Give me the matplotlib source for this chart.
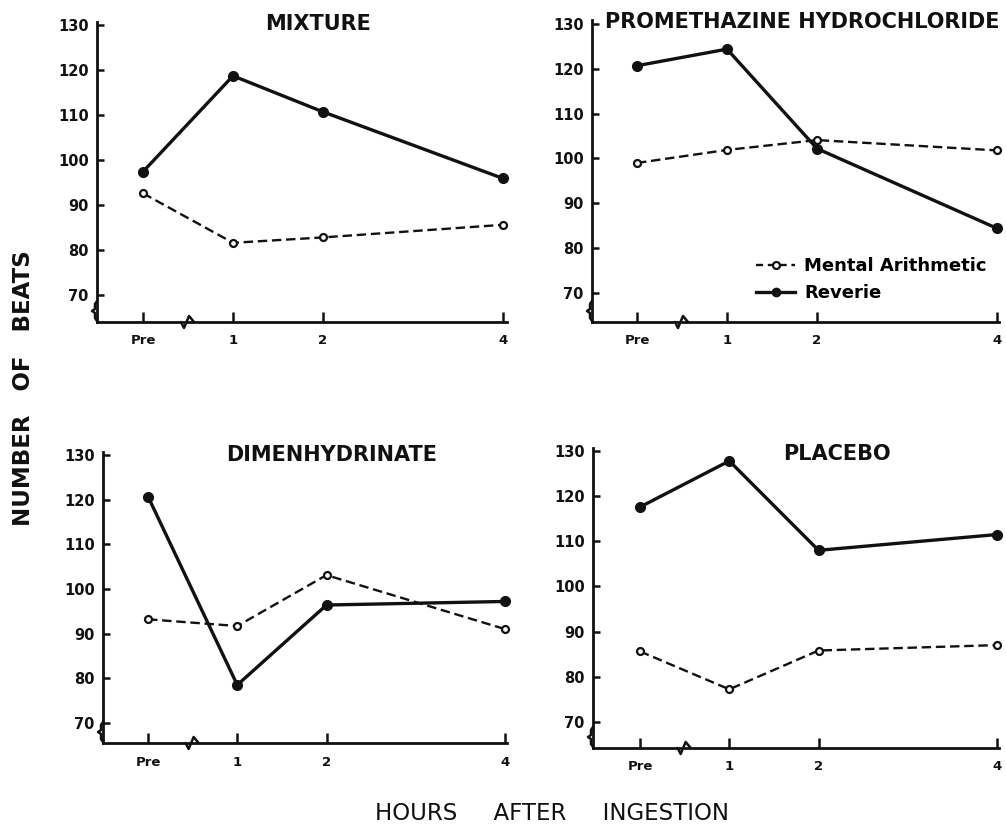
import matplotlib
matplotlib.use("Agg")
import matplotlib.pyplot as plt
from matplotlib.lines import Line2D

# ---------------- data ----------------
hours = [0, 1, 2, 4]
hour_labels = ["Pre", "1", "2", "4"]
y_ticks = [70, 80, 90, 100, 110, 120, 130]

titles = ["MIXTURE", "PROMETHAZINE HYDROCHLORIDE", "DIMENHYDRINATE", "PLACEBO"]

reverie_mixture = [97.4, 118.7, 110.7, 95.9]
mental_mixture = [92.6, 81.6, 82.8, 85.6]
reverie_prometh = [120.7, 124.4, 102.2, 84.4]
mental_prometh = [99.0, 101.9, 104.1, 101.8]
reverie_dimen = [120.7, 78.5, 96.4, 97.2]
mental_dimen = [93.2, 91.7, 103.1, 91.0]
reverie_placebo = [117.6, 127.8, 108.0, 111.5]
mental_placebo = [85.6, 77.2, 85.8, 87.0]

reverie_series = [reverie_mixture, reverie_prometh, reverie_dimen, reverie_placebo]
mental_series = [mental_mixture, mental_prometh, mental_dimen, mental_placebo]

# ---------------- layout ----------------
W, H = 1006, 827
fig = plt.figure(figsize=(W / 100, H / 100), dpi=100)
plt.rcParams['font.family'] = ['DejaVu Sans']


def box(L, R, T, B):
    return [L / W, 1 - B / H, (R - L) / W, (B - T) / H]


panels = [
    dict(box=box(97, 507, 22, 322), xlim=(-0.511, 4.044), ylim=(64.0, 130.67),
         title_xy=(318, 24)),
    dict(box=box(592, 999, 20, 322), xlim=(-0.50, 4.022), ylim=(63.5, 130.9),
         title_xy=(802, 22)),
    dict(box=box(103, 507, 452, 743), xlim=(-0.504, 4.022), ylim=(65.5, 130.67),
         title_xy=(332, 455)),
    dict(box=box(593, 999, 448, 748), xlim=(-0.527, 4.022), ylim=(64.2, 130.67),
         title_xy=(837, 454)),
]

INK = "#111111"

for i, p in enumerate(panels):
    ax = fig.add_axes(p["box"])
    ax.set_xlim(*p["xlim"])
    ax.set_ylim(*p["ylim"])
    for s in ["top", "right"]:
        ax.spines[s].set_visible(False)
    for s in ["left", "bottom"]:
        ax.spines[s].set_linewidth(2.0)
        ax.spines[s].set_color(INK)

    ax.set_yticks(y_ticks)
    ax.set_yticklabels([str(v) for v in y_ticks], fontsize=10.5, fontweight="bold")
    ax.set_xticks(hours)
    ax.set_xticklabels(hour_labels, fontsize=9.5, fontweight="bold")
    ax.tick_params(axis="y", direction="in", length=5, width=1.8, pad=6, colors=INK)
    ax.tick_params(axis="x", direction="in", length=7, width=1.8, pad=9, colors=INK)

    # mental arithmetic (dashed, open circles)
    ax.plot(hours, mental_series[i], color=INK, lw=1.7, ls=(0, (4, 2)),
            marker="o", ms=5, mfc="white", mec=INK, mew=1.6, zorder=3,
            clip_on=False)
    # reverie (solid, filled circles)
    ax.plot(hours, reverie_series[i], color=INK, lw=2.4, ls="-",
            marker="o", ms=7, mfc=INK, mec=INK, zorder=4, clip_on=False)

    # axis break marks (decorative)
    x0, x1 = p["xlim"]
    y0, y1 = p["ylim"]
    dx = (x1 - x0) / (p["box"][2] * W)   # data units per pixel
    dy = (y1 - y0) / (p["box"][3] * H)
    # x-axis break between Pre and 1
    xb = 0.5
    ax.plot([xb - 7 * dx, xb - 4 * dx, xb + 1 * dx, xb + 6 * dx],
            [y0, y0 - 6 * dy, y0 + 6 * dy, y0],
            color=INK, lw=1.8, clip_on=False, solid_capstyle="round")
    # y-axis brace near the bottom
    yb = y0 + 11 * dy
    ax.plot([x0, x0 - 2 * dx, x0 - 2 * dx, x0 - 5 * dx, x0 - 2 * dx,
             x0 - 2 * dx, x0],
            [yb + 10 * dy, yb + 7 * dy, yb + 2 * dy, yb, yb - 2 * dy,
             yb - 7 * dy, yb - 10 * dy],
            color=INK, lw=1.8, clip_on=False)

    tx, ty = p["title_xy"]
    fig.text(tx / W, 1 - ty / H, titles[i], ha="center", va="center",
             fontsize=15, fontweight="bold", color=INK)

    if i == 1:
        handles = [
            Line2D([], [], color=INK, lw=1.7, ls=(0, (3, 2)), marker="o", ms=5,
                   mfc="white", mec=INK, mew=1.6),
            Line2D([], [], color=INK, lw=2.4, marker="o", ms=6, mfc=INK, mec=INK),
        ]
        ax.legend(handles, ["Mental Arithmetic", "Reverie"],
                  loc="lower left", bbox_to_anchor=(0.38, 0.035),
                  frameon=False, handlelength=2.2,
                  handletextpad=0.5, labelspacing=0.5, borderpad=0,
                  prop=dict(weight="bold", size=13))

fig.text(24 / W, 1 - 388 / H, "NUMBER   OF   BEATS", rotation=90, ha="center",
         va="center", fontsize=16.5, fontweight="bold", color=INK)
fig.text(552 / W, 1 - 814 / H, "HOURS     AFTER     INGESTION", ha="center",
         va="center", fontsize=16.5, color=INK)

fig.savefig("out.png", dpi=100, facecolor="white")
